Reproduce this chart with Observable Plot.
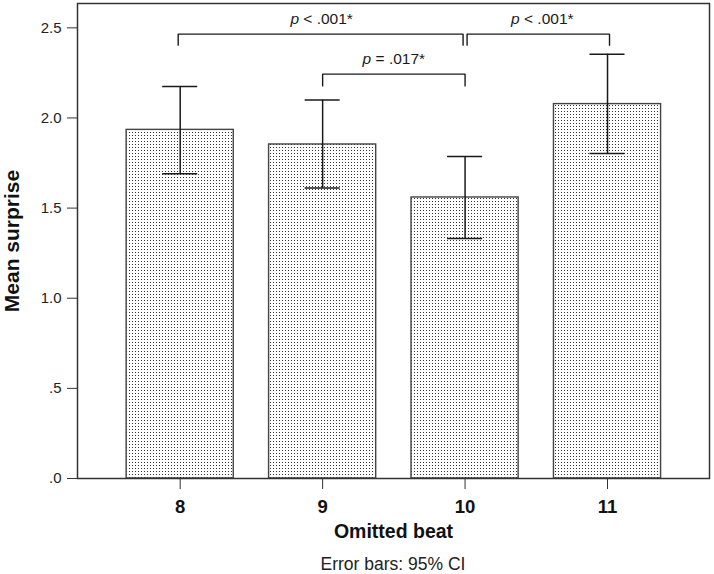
<!DOCTYPE html>
<html><head><meta charset="utf-8">
<script src="https://cdn.jsdelivr.net/npm/d3@7"></script>
<script src="https://cdn.jsdelivr.net/npm/@observablehq/plot@0.6"></script>
<style>
html,body{margin:0;padding:0;background:#fff;}
body{width:714px;height:574px;overflow:hidden;font-family:"Liberation Sans",Arial,sans-serif;}
#chart svg{display:block;}
#chart svg g[aria-label^="x-axis"] text{font-size:18.5px;font-weight:bold;fill:#111;}
#chart svg g[aria-label^="y-axis"] text{font-size:15px;fill:#222;}
#caption{width:714px;box-sizing:border-box;padding-left:72px;text-align:center;font-size:17.5px;line-height:20px;color:#222;}
</style></head><body>
<div id="chart"></div>
<div id="caption"></div>
<script>
// ---- data ----
const beats = [8, 9, 10, 11];
const xTickLabels = ["8", "9", "10", "11"];
const means = [1.934, 1.853, 1.559, 2.077];
const ciLow = [1.690, 1.611, 1.331, 1.803];
const ciHigh = [2.174, 2.099, 1.786, 2.354];
const yTicks = [0, 0.5, 1.0, 1.5, 2.0, 2.5];
const yTickLabels = [".0", ".5", "1.0", "1.5", "2.0", "2.5"];
const cmpFrom = [8, 9, 10];
const cmpTo = [10, 10, 11];
const cmpY = [2.465, 2.243, 2.465];
const cmpLegY = [2.404, 2.178, 2.404];
const cmpLabels = ["p < .001*", "p = .017*", "p < .001*"];
const xLabel = "Omitted beat";
const yLabel = "Mean surprise";
const captionText = "Error bars: 95% CI";

// ---- tables ----
const bars = beats.map((b, i) => ({beat: b, mean: means[i], lo: ciLow[i], hi: ciHigh[i]}));
const cmps = cmpFrom.map((f, i) => ({from: f, to: cmpTo[i], y: cmpY[i], leg: cmpLegY[i], label: cmpLabels[i]}));
const bracketPts = c => [
  {x: c.from, y: c.leg}, {x: c.from, y: c.y}, {x: c.to, y: c.y}, {x: c.to, y: c.leg}
];

// ---- style constants ----
const barHalf = 0.376, capHalf = 0.123;
const bracketDx = [-2, 0, 2];
const labelDx = [-1, 0, 6];
const ink = "#1a1a1a";

const marks = [
  Plot.rectY(bars, {x1: d => d.beat - barHalf, x2: d => d.beat + barHalf, y1: 0, y2: "mean",
    fill: "url(#dots)", stroke: "#444", strokeWidth: 1.4}),
  Plot.ruleX(bars, {x: "beat", y1: "lo", y2: "hi", stroke: ink, strokeWidth: 1.5}),
  Plot.ruleY(bars, {y: "lo", x1: d => d.beat - capHalf, x2: d => d.beat + capHalf, stroke: ink, strokeWidth: 1.5}),
  Plot.ruleY(bars, {y: "hi", x1: d => d.beat - capHalf, x2: d => d.beat + capHalf, stroke: ink, strokeWidth: 1.5}),
  ...cmps.map((c, i) => Plot.line(bracketPts(c), {x: "x", y: "y", stroke: ink, strokeWidth: 1.4, dx: bracketDx[i]})),
  ...cmps.map((c, i) => Plot.text([c], {x: d => (d.from + d.to) / 2, y: "y", text: "label",
    dy: -10, dx: labelDx[i], lineAnchor: "bottom", fontSize: 15.5, fill: ink})),
  Plot.frame({stroke: "#333", strokeWidth: 1.5}),
  Plot.text([yLabel], {text: d => d, frameAnchor: "left", rotate: -90, dx: -59, lineAnchor: "bottom",
    textAnchor: "middle", fontSize: 21, fontWeight: "bold", fill: "#111"}),
  Plot.text([xLabel], {text: d => d, frameAnchor: "bottom", dy: 59, lineAnchor: "bottom",
    textAnchor: "middle", fontSize: 19.5, fontWeight: "bold", fill: "#111"})
];

const chart = Plot.plot({
  width: 714,
  height: 554,
  marginLeft: 77,
  marginRight: 5,
  marginTop: 3,
  marginBottom: 76,
  style: {fontFamily: "'Liberation Sans', Arial, sans-serif", fontSize: "15px", color: "#333", background: "#fff"},
  x: {type: "linear", domain: [7.279, 11.716], ticks: beats, tickFormat: d => xTickLabels[beats.indexOf(d)],
      tickSize: 11, tickPadding: 10, label: null},
  y: {domain: [0, 2.635], ticks: yTicks, tickFormat: d => yTickLabels[yTicks.indexOf(d)],
      tickSize: 10, tickPadding: 6, label: null},
  marks
});

const svg = chart.tagName.toLowerCase() === "svg" ? chart : chart.querySelector("svg");
const ns = "http://www.w3.org/2000/svg";
const defs = document.createElementNS(ns, "defs");
defs.innerHTML = '<pattern id="dots" width="3" height="3" patternUnits="userSpaceOnUse">' +
  '<rect width="3" height="3" fill="#fff"/><rect width="1" height="1" fill="#333"/></pattern>';
svg.insertBefore(defs, svg.firstChild);

svg.querySelectorAll("text").forEach(t => {
  const s = t.textContent;
  if (cmpLabels.includes(s)) {
    t.textContent = "";
    const ts = document.createElementNS(ns, "tspan");
    ts.setAttribute("font-style", "italic");
    ts.textContent = s.slice(0, 1);
    t.appendChild(ts);
    t.appendChild(document.createTextNode(s.slice(1)));
  }
});

document.getElementById("chart").appendChild(chart);
document.getElementById("caption").textContent = captionText;
</script>
</body></html>
